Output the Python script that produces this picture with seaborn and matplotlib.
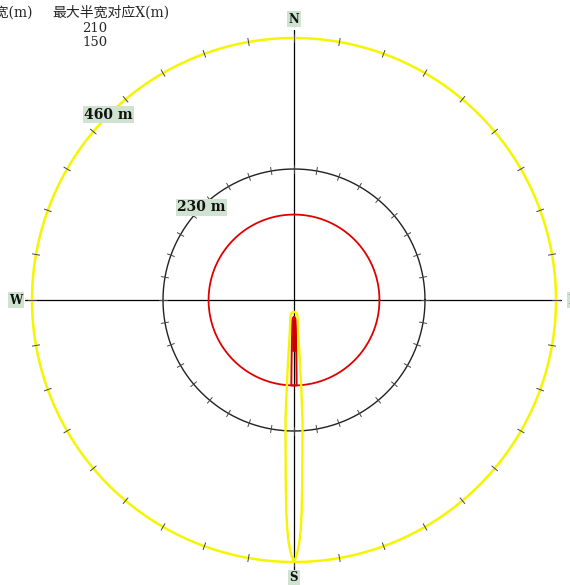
import numpy as np
import pandas as pd
import matplotlib
matplotlib.use("Agg")
import matplotlib.pyplot as plt
import seaborn as sns

# Range rings (m) and their colours
ring_radius = [230, 460]
ring_color = ["#222222", "#f5f500"]

# Header table: distance of the maximum half width (m)
header_left = "最大半宽(m)"
header_right = "最大半宽对应X(m)"
max_width_x = [210, 150]

# Outer (yellow) contour: downwind distance (m, southward) and half width (m)
yellow_dist = [21, 21.5, 23, 26, 35, 60, 100, 150, 210, 260, 320, 370, 400, 425, 440, 450, 460]
yellow_half = [0, 2.5, 4.5, 5.8, 6.5, 7.5, 10, 12.5, 15, 14.8, 14.5, 13.5, 12, 9.5, 6.5, 4, 0]

# Inner (red) contour
red_dist = [30, 31, 35, 50, 90, 120, 150]
red_half = [0, 1.8, 2.6, 3.2, 4.0, 4.4, 4.7]

compass = ["N", "E", "S", "W"]

sns.set_style("white")
plt.rcParams["font.family"] = ["DejaVu Serif", "Noto Sans CJK SC"]

W, H = 570, 585
cx, cy = 294, 300
scale = 262 / 460.0  # pixels per metre

fig = plt.figure(figsize=(W / 100, H / 100), dpi=100)
ax = fig.add_axes([0, 0, 1, 1])
ax.set_xlim(-cx / scale, (W - cx) / scale)
ax.set_ylim(-(H - cy) / scale, cy / scale)
ax.set_axis_off()

# Compass axes
ax.plot([0, 0], [-474, 474], color="black", lw=0.9, zorder=2)
ax.plot([-472, 468], [0, 0], color="black", lw=0.9, zorder=2)

theta = np.linspace(0, 2 * np.pi, 721)

# Range rings with 10-degree ticks
for r, c in zip(ring_radius, ring_color):
    ring = pd.DataFrame({"x": r * np.cos(theta), "y": r * np.sin(theta)})
    sns.lineplot(data=ring, x="x", y="y", sort=False, estimator=None,
                 color=c, lw=1.8 if r == 460 else 1.0, ax=ax, zorder=3)
    for a in np.deg2rad(np.arange(0, 360, 10)):
        d = 6.5
        ax.plot([(r - d) * np.sin(a), (r + d) * np.sin(a)],
                [(r - d) * np.cos(a), (r + d) * np.cos(a)],
                color="#444444", lw=0.7, zorder=4)
    ang = np.deg2rad(135)
    ax.text(r * np.cos(ang), r * np.sin(ang), f"{r} m", ha="center", va="center",
            fontsize=10, fontweight="bold", color="#111111", zorder=6,
            bbox=dict(boxstyle="square,pad=0.1", fc="#cfe3d0", ec="none"))

# Circle at the distance of maximum half width of the red contour
r = max_width_x[1]
circ = pd.DataFrame({"x": r * np.cos(theta), "y": r * np.sin(theta)})
sns.lineplot(data=circ, x="x", y="y", sort=False, estimator=None,
             color="#e00000", lw=1.3, ax=ax, zorder=3)

# Plume contours (closed outlines)
def outline(dist, half):
    d = np.asarray(dist, float)
    h = np.asarray(half, float)
    xs = np.concatenate([h, -h[::-1], h[:1]])
    ys = -np.concatenate([d, d[::-1], d[:1]])
    return pd.DataFrame({"x": xs, "y": ys})

sns.lineplot(data=outline(yellow_dist, yellow_half), x="x", y="y", sort=False,
             estimator=None, color="#f5f500", lw=1.7, ax=ax, zorder=5)
sns.lineplot(data=outline(red_dist, red_half), x="x", y="y", sort=False,
             estimator=None, color="#e00000", lw=1.4, ax=ax, zorder=5)
rd = np.asarray(red_dist[:5], float)
rh = np.asarray(red_half[:5], float)
ax.fill_betweenx(-rd, -rh, rh, color="#c80000", zorder=5, lw=0)

# Compass labels
lab_pos = {"N": (0, 493), "E": (490, 0), "S": (0, -488), "W": (-488, 0)}
for k in compass:
    x, y = lab_pos[k]
    ax.text(x, y, k, ha="center", va="center", fontsize=8.5, fontweight="bold",
            color="#111111", zorder=6,
            bbox=dict(boxstyle="square,pad=0.15", fc="#cfe3d0", ec="none"))

# Header table
fig.text(33 / W, 1 - 13 / H, header_left, ha="right", va="center", fontsize=10)
fig.text(52 / W, 1 - 13 / H, header_right, ha="left", va="center", fontsize=10)
for i, v in enumerate(max_width_x):
    fig.text(95 / W, 1 - (28.5 + 13.5 * i) / H, str(v), ha="center", va="center", fontsize=9.5)

fig.savefig("out.png", dpi=100, facecolor="white")
